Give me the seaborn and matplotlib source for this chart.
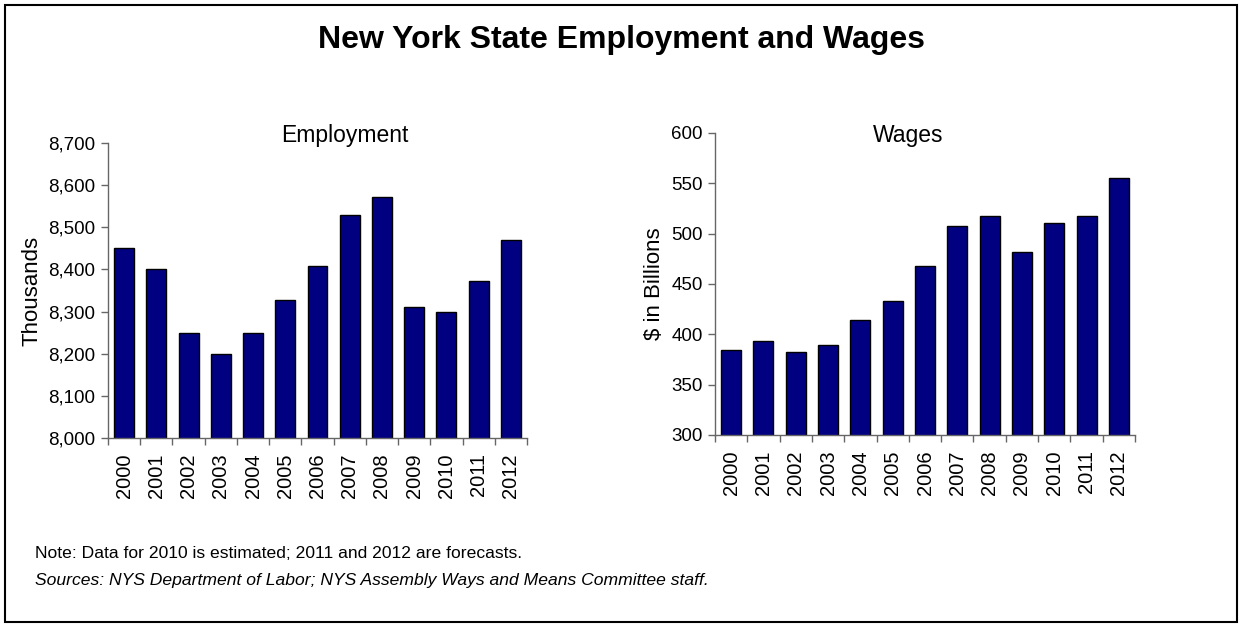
import matplotlib
matplotlib.use("Agg")
import matplotlib.pyplot as plt
import matplotlib.ticker as mticker
from matplotlib.patches import Rectangle
import seaborn as sns
import pandas as pd
import numpy as np

years = [str(y) for y in range(2000, 2013)]
employment = [8450, 8401, 8250, 8200, 8250, 8327, 8409, 8528, 8573, 8311, 8299, 8373, 8471]
wages = [384, 393, 382, 389, 414, 433, 468, 508, 518, 482, 511, 518, 555]

sns.set_theme(style="white")
plt.rcParams['font.family'] = ['Liberation Sans', 'DejaVu Sans']
for k in ["text.color", "axes.labelcolor", "xtick.color", "ytick.color"]:
    plt.rcParams[k] = "black"

df = pd.DataFrame({"Year": years, "Employment": employment, "Wages": wages})

fig = plt.figure(figsize=(12.42, 6.27), dpi=100)
W, H = 1242, 627

def ax_at(x0, y0, x1, y1):
    return fig.add_axes([x0 / W, 1 - y1 / H, (x1 - x0) / W, (y1 - y0) / H])

ax1 = ax_at(108, 143, 527, 438)
ax2 = ax_at(715, 133, 1135, 435)

bar_color = "#000080"
axis_color = "#666666"
for ax, col, ylim, step, ylabel in [
    (ax1, "Employment", (8000, 8700), 100, "Thousands"),
    (ax2, "Wages", (300, 600), 50, "$ in Billions"),
]:
    sns.barplot(data=df, x="Year", y=col, ax=ax, color=bar_color, saturation=1,
                edgecolor="black", linewidth=1.0, width=0.62)
    ax.set_ylim(*ylim)
    ax.set_xlim(-0.5, len(years) - 0.5)
    ax.yaxis.set_major_locator(mticker.MultipleLocator(step))
    ax.yaxis.set_major_formatter(mticker.FuncFormatter(lambda v, p: f"{int(v):,}"))
    ax.set_xlabel("")
    ax.set_ylabel(ylabel, fontsize=16, labelpad=4)
    for s in ["top", "right"]:
        ax.spines[s].set_visible(False)
    for s in ["left", "bottom"]:
        ax.spines[s].set_color(axis_color)
        ax.spines[s].set_linewidth(1.0)
    ax.tick_params(axis="y", which="major", direction="out", length=5, width=1,
                   color=axis_color, labelsize=13.5, left=True, pad=4)
    ax.tick_params(axis="x", which="major", length=0, labelsize=14.5, rotation=90, pad=11)
    ax.xaxis.set_minor_locator(mticker.FixedLocator(np.arange(-0.5, len(years), 1.0)))
    ax.tick_params(axis="x", which="minor", direction="out", length=5, width=1,
                   color=axis_color, bottom=True)
    ax.grid(False)

fig.text(345 / W, 1 - 142 / H, "Employment", ha="center", va="baseline", fontsize=16.5)
fig.text(908 / W, 1 - 142 / H, "Wages", ha="center", va="baseline", fontsize=16.5)

fig.text(0.5, 1 - 40 / H, "New York State Employment and Wages", ha="center", va="center",
         fontsize=23, fontweight="bold")
fig.text(35 / W, 1 - 554 / H, "Note: Data for 2010 is estimated; 2011 and 2012 are forecasts.",
         ha="left", va="center", fontsize=12.6)
fig.text(35 / W, 1 - 581 / H,
         "Sources: NYS Department of Labor; NYS Assembly Ways and Means Committee staff.",
         ha="left", va="center", fontsize=12.6, style="italic")

fig.patches.append(Rectangle((5 / W, 5 / H), 1 - 10 / W, 1 - 10 / H, transform=fig.transFigure,
                             fill=False, edgecolor="black", linewidth=1.5))

fig.savefig("out.png", dpi=100)
